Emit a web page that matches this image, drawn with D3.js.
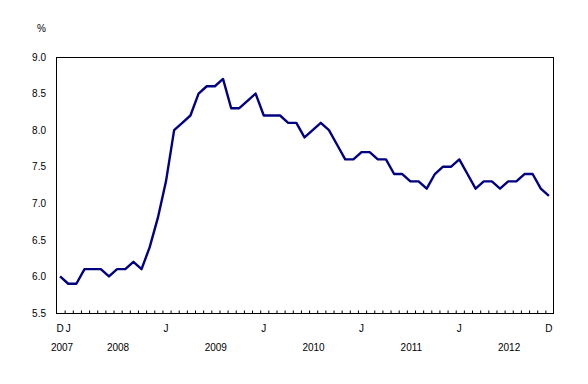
<!DOCTYPE html>
<html>
<head>
<meta charset="utf-8">
<script src="https://cdn.jsdelivr.net/npm/d3@7"></script>
<style>
  body { margin: 0; background: #fff; }
  text { font-family: "Liberation Sans", Arial, sans-serif; font-size: 10px; fill: #000; }
</style>
</head>
<body>
<div id="chart"></div>
<script>
// monthly rate, December 2007 to December 2012
const years = ["2007", "2008", "2009", "2010", "2011", "2012"];
const values = [
  6.0,
  5.9, 5.9, 6.1, 6.1, 6.1, 6.0, 6.1, 6.1, 6.2, 6.1, 6.4, 6.8,
  7.3, 8.0, 8.1, 8.2, 8.5, 8.6, 8.6, 8.7, 8.3, 8.3, 8.4, 8.5,
  8.2, 8.2, 8.2, 8.1, 8.1, 7.9, 8.0, 8.1, 8.0, 7.8, 7.6, 7.6,
  7.7, 7.7, 7.6, 7.6, 7.4, 7.4, 7.3, 7.3, 7.2, 7.4, 7.5, 7.5,
  7.6, 7.4, 7.2, 7.3, 7.3, 7.2, 7.3, 7.3, 7.4, 7.4, 7.2, 7.1
];
const yTicks = [5.5, 6.0, 6.5, 7.0, 7.5, 8.0, 8.5, 9.0];
const monthLabels = ["D", "J", "J", "J", "J", "J", "D"];
const monthLabelIdx = [0, 1, 13, 25, 37, 49, 60];

const width = 588, height = 384;
const margin = {top: 57, right: 35, bottom: 71, left: 56};

const svg = d3.select("#chart").append("svg")
    .attr("width", width)
    .attr("height", height);

const x = d3.scaleLinear()
    .domain([-0.5, values.length - 0.5])
    .range([margin.left, width - margin.right]);

const y = d3.scaleLinear()
    .domain([5.5, 9.0])
    .range([height - margin.bottom, margin.top]);

// frame
svg.append("rect")
    .attr("x", margin.left + 0.5)
    .attr("y", margin.top + 0.5)
    .attr("width", width - margin.left - margin.right)
    .attr("height", height - margin.top - margin.bottom)
    .attr("fill", "none")
    .attr("stroke", "#000")
    .attr("stroke-width", 1);

// small month ticks on the bottom edge, pointing up
const tickPos = d3.range(0, values.length - 1).map(i => i + 0.5);
svg.append("g")
    .attr("transform", `translate(0,${height - margin.bottom + 0.5})`)
    .call(d3.axisTop(x).tickValues(tickPos).tickSize(3).tickFormat(""))
    .call(g => g.select(".domain").remove())
    .call(g => g.selectAll("line").attr("transform", "translate(0.5,0)"));

// y labels
svg.append("g")
    .attr("transform", `translate(${margin.left - 10},0)`)
    .call(d3.axisLeft(y).tickValues(yTicks).tickSize(0).tickPadding(0).tickFormat(d3.format(".1f")))
    .call(g => g.select(".domain").remove())
    .call(g => g.selectAll("text").attr("font-size", null).attr("font-family", null));

svg.append("text")
    .attr("x", margin.left - 10)
    .attr("y", 32)
    .attr("text-anchor", "end")
    .text("%");

// month letters
svg.append("g").selectAll("text")
    .data(monthLabels)
    .join("text")
    .attr("x", (d, i) => x(monthLabelIdx[i]))
    .attr("y", 332)
    .attr("text-anchor", "middle")
    .text(d => d);

// year labels, centred on that year's months
const yearIdx = years.map((yr, k) => {
  const first = k === 0 ? 0 : 1 + (k - 1) * 12;
  const last = k === 0 ? 0 : first + 11;
  return (first + last) / 2;
});
svg.append("g").selectAll("text")
    .data(years)
    .join("text")
    .attr("x", (d, i) => x(yearIdx[i]) + (i === 0 ? 2 : 5))
    .attr("y", 351)
    .attr("text-anchor", "middle")
    .text(d => d);

// the line
const line = d3.line()
    .x((d, i) => x(i))
    .y(d => y(d));

svg.append("path")
    .datum(values)
    .attr("fill", "none")
    .attr("stroke", "#000080")
    .attr("stroke-width", 2.4)
    .attr("stroke-linejoin", "round")
    .attr("d", line);
</script>
</body>
</html>
